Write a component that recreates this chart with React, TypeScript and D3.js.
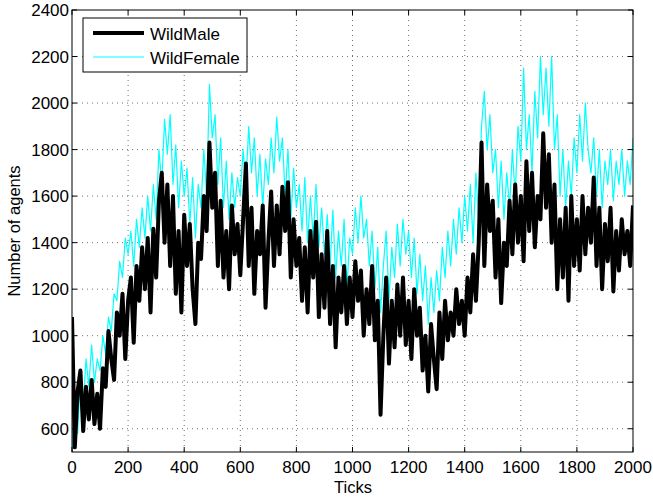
import * as d3 from 'd3';
import React from 'react';

const wildMale = [
  1080,
  520, 760, 850, 590, 780, 640, 810, 620, 750, 600,
  860, 780, 1020, 900, 810, 1100, 1000, 1180, 900, 1150,
  1250, 970, 1300, 1150, 1380, 1200, 1420, 1100, 1460, 1250,
  1580, 1700, 1400, 1650, 1300, 1600, 1180, 1450, 1100, 1520,
  1300, 1480, 1200, 1050, 1400, 1330, 1600, 1450, 1830, 1550,
  1700, 1300, 1580, 1250, 1450, 1200, 1560, 1350, 1480, 1260,
  1500, 1740, 1300, 1550, 1180, 1450, 1350, 1560, 1120, 1400,
  1620, 1300, 1560, 1350, 1640, 1450, 1660, 1250, 1500, 1300,
  1420, 1150, 1380, 1100, 1450, 1250, 1490, 1080, 1350, 1120,
  1450, 1050, 1300, 950, 1250, 1100, 1300, 1050, 1250, 1080,
  1320, 1150, 1280, 1000, 1200, 1050, 1300, 980, 1150, 660,
  1000, 1250, 880, 1150, 950, 1220, 1000, 1250, 960, 1150,
  900, 1200, 1000, 1120, 850, 1000, 760, 1050, 900, 770,
  1100, 900, 1150, 980, 1100, 1000, 1200, 1050, 1150, 1000,
  1250, 1100, 1350, 1150, 1400, 1830, 1300, 1650, 1450, 1580,
  1250, 1500, 1140, 1400, 1300, 1580, 1350, 1650, 1400, 1600,
  1320, 1750, 1450, 1700, 1380, 1600, 1500, 1870, 1550, 1780,
  1400, 1650, 1200, 1500, 1250, 1550, 1150, 1600, 1300, 1500,
  1280, 1600, 1350, 1550, 1400, 1680, 1300, 1550, 1200, 1480,
  1320, 1550, 1190, 1450, 1280, 1500, 1350, 1450, 1300, 1560,
];

const wildFemale = [
  500,
  700, 580, 820, 700, 900, 780, 960, 800, 900, 850,
  1000, 920, 1080, 1020, 1180, 1150, 1320, 1250, 1420, 1350,
  1450, 1300, 1500, 1380, 1550, 1420, 1600, 1450, 1650, 1500,
  1800, 1650, 1930, 1780, 1950, 1650, 1820, 1550, 1750, 1600,
  1720, 1480, 1680, 1420, 1650, 1550, 1800, 1600, 2080, 1850,
  1950, 1650, 1850, 1550, 1750, 1500, 1700, 1550, 1680, 1600,
  1800, 1650, 1900, 1700, 1850, 1600, 1780, 1550, 1760, 1650,
  1850, 1700, 1940, 1750, 1850, 1600, 1800, 1500, 1720, 1550,
  1650, 1450, 1680, 1400, 1600, 1420, 1650, 1380, 1550, 1350,
  1520, 1300, 1540, 1250, 1450, 1300, 1500, 1200, 1420, 1350,
  1550, 1400, 1600, 1420, 1500, 1300, 1450, 1200, 1380, 1100,
  1300, 1450, 1150, 1380, 1250, 1480, 1300, 1500, 1350, 1450,
  1250, 1420, 1180, 1350, 1150, 1300, 1050, 1250, 1100, 1280,
  1150, 1380, 1250, 1450, 1300, 1500, 1350, 1550, 1400, 1600,
  1450, 1650, 1400, 1700, 1500, 1900, 2050, 1800, 1950, 1700,
  1800, 1550, 1750, 1500, 1700, 1550, 1800, 1600, 1900, 1750,
  2150, 1800, 1950, 1700, 2050, 1850, 2200, 1950, 2150, 1900,
  2200, 1800, 1950, 1600, 1800, 1550, 1750, 1600, 1850, 1700,
  1950, 1750, 2000, 1800, 1700, 1850, 1600, 1800, 1550, 1750,
  1650, 1800, 1580, 1750, 1650, 1800, 1600, 1750, 1650, 1850,
];

const xTicks = [0, 200, 400, 600, 800, 1000, 1200, 1400, 1600, 1800, 2000];
const yTicks = [600, 800, 1000, 1200, 1400, 1600, 1800, 2000, 2200, 2400];

const W = 653, H = 497;
const L = 72, R = 633, T = 10, B = 452;
const font = "'Liberation Sans', Arial, Helvetica, sans-serif";

export default function App() {
  const x = d3.scaleLinear().domain([0, 2000]).range([L, R]);
  const y = d3.scaleLinear().domain([500, 2400]).range([B, T]);
  const line = d3.line<number>().x((_, i) => x(i * 10)).y(d => y(d));

  return (
    <svg width={W} height={H} style={{ position: 'absolute', left: 0, top: 0 }}
         fontFamily={font}>
      <rect width={W} height={H} fill="#fff" />
      <defs>
        <clipPath id="plot"><rect x={L} y={T} width={R - L} height={B - T} /></clipPath>
      </defs>
      {/* grid */}
      <g stroke="#000" strokeWidth={0.8} strokeDasharray="1,4" opacity={0.7}>
        {xTicks.slice(1, -1).map(t => (
          <line key={'gx' + t} x1={x(t)} x2={x(t)} y1={T} y2={B} />
        ))}
        {yTicks.slice(0, -1).map(t => (
          <line key={'gy' + t} x1={L} x2={R} y1={y(t)} y2={y(t)} />
        ))}
      </g>
      <g clipPath="url(#plot)" fill="none" strokeLinejoin="round">
        <path d={line(wildFemale) || ''} stroke="#00ffff" strokeWidth={1.2} />
        <path d={line(wildMale) || ''} stroke="#000" strokeWidth={4} />
      </g>
      {/* box and ticks */}
      <rect x={L} y={T} width={R - L} height={B - T} fill="none" stroke="#000" strokeWidth={1} />
      <g stroke="#000" strokeWidth={1}>
        {xTicks.map(t => (
          <g key={'tx' + t}>
            <line x1={x(t)} x2={x(t)} y1={B} y2={B - 5} />
            <line x1={x(t)} x2={x(t)} y1={T} y2={T + 5} />
          </g>
        ))}
        {yTicks.map(t => (
          <g key={'ty' + t}>
            <line x1={L} x2={L + 5} y1={y(t)} y2={y(t)} />
            <line x1={R} x2={R - 5} y1={y(t)} y2={y(t)} />
          </g>
        ))}
      </g>
      <g fontSize={17} fill="#000">
        {xTicks.map(t => (
          <text key={'lx' + t} x={x(t)} y={473} textAnchor="middle">{t}</text>
        ))}
        {yTicks.map(t => (
          <text key={'ly' + t} x={L - 3} y={y(t) + 6} textAnchor="end">{t}</text>
        ))}
      </g>
      <g fontSize={16.5} fill="#000">
        <text x={353} y={493} textAnchor="middle">Ticks</text>
        <text transform={`translate(20,${(T + B) / 2}) rotate(-90)`} textAnchor="middle">Number of agents</text>
      </g>
      {/* legend */}
      <g>
        <rect x={83} y={18} width={164} height={54} fill="#fff" stroke="#000" strokeWidth={1} />
        <line x1={93} x2={144} y1={33} y2={33} stroke="#000" strokeWidth={4} />
        <line x1={93} x2={144} y1={57} y2={57} stroke="#00ffff" strokeWidth={1.2} />
        <text x={150} y={40} fontSize={17}>WildMale</text>
        <text x={150} y={64} fontSize={17}>WildFemale</text>
      </g>
    </svg>
  );
}
